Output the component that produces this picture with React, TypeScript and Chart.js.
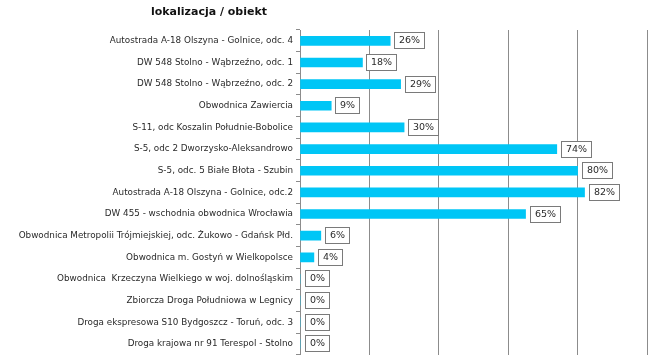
import React, { useEffect, useRef } from 'react';
import { Chart, registerables } from 'chart.js';

Chart.register(...registerables);

const categories = [
  'Autostrada A-18 Olszyna - Golnice, odc. 4',
  'DW 548 Stolno - Wąbrzeźno, odc. 1',
  'DW 548 Stolno - Wąbrzeźno, odc. 2',
  'Obwodnica Zawiercia',
  'S-11, odc Koszalin Południe-Bobolice',
  'S-5, odc 2 Dworzysko-Aleksandrowo',
  'S-5, odc. 5 Białe Błota - Szubin',
  'Autostrada A-18 Olszyna - Golnice, odc.2',
  'DW 455 - wschodnia obwodnica Wrocławia',
  'Obwodnica Metropolii Trójmiejskiej, odc. Żukowo - Gdańsk Płd.',
  'Obwodnica m. Gostyń w Wielkopolsce',
  'Obwodnica  Krzeczyna Wielkiego w woj. dolnośląskim',
  'Zbiorcza Droga Południowa w Legnicy',
  'Droga ekspresowa S10 Bydgoszcz - Toruń, odc. 3',
  'Droga krajowa nr 91 Terespol - Stolno',
];

const values = [26, 18, 29, 9, 30, 74, 80, 82, 65, 6, 4, 0, 0, 0, 0];

const xMin = 0;
const xMax = 100;
const xStep = 20;

const titleText = 'lokalizacja / obiekt';

const FONT = "'DejaVu Sans', sans-serif";
const BAR_COLOR = '#00C6F6';
const GRID_COLOR = '#8c8c8c';
const TEXT_COLOR = '#2a2a2a';

const overlayPlugin = {
  id: 'overlay',
  afterDraw(chart: any) {
    const ctx = chart.ctx;
    const area = chart.chartArea;
    ctx.save();
    // title
    ctx.font = `bold 11px ${FONT}`;
    ctx.fillStyle = '#111';
    ctx.textAlign = 'center';
    ctx.textBaseline = 'middle';
    ctx.fillText(titleText, area.left - 91, 12);

    // value boxes
    const meta = chart.getDatasetMeta(0);
    ctx.font = `9.5px ${FONT}`;
    meta.data.forEach((bar: any, i: number) => {
      const text = `${values[i]}%`;
      const tw = ctx.measureText(text).width;
      const w = Math.round(tw + 10);
      const h = 17;
      const x = Math.round(bar.x + (values[i] === 0 ? 5 : 4));
      const y = Math.round(bar.y - h / 2);
      ctx.fillStyle = '#ffffff';
      ctx.fillRect(x, y, w, h);
      ctx.strokeStyle = '#7a7a7a';
      ctx.lineWidth = 1;
      ctx.strokeRect(x + 0.5, y + 0.5, w - 1, h - 1);
      ctx.fillStyle = TEXT_COLOR;
      ctx.textAlign = 'left';
      ctx.textBaseline = 'middle';
      ctx.fillText(text, x + 5, y + h / 2 + 0.5);
    });
    ctx.restore();
  },
};

export default function App() {
  const ref = useRef<HTMLCanvasElement | null>(null);

  useEffect(() => {
    if (!ref.current) return;
    const chart = new Chart(ref.current, {
      type: 'bar',
      data: {
        labels: categories,
        datasets: [
          {
            data: values,
            backgroundColor: BAR_COLOR,
            borderWidth: 0,
            barThickness: 9,
          },
        ],
      },
      options: {
        indexAxis: 'y',
        animation: false,
        responsive: true,
        maintainAspectRatio: false,
        layout: { padding: { left: 0, right: 10, top: 30, bottom: 6 } },
        plugins: {
          legend: { display: false },
          tooltip: { enabled: false },
          title: { display: false },
        },
        scales: {
          x: {
            min: xMin,
            max: xMax,
            z: 1,
            ticks: { display: false, stepSize: xStep },
            grid: { color: GRID_COLOR, lineWidth: 1, drawTicks: false },
            border: { display: false },
          },
          y: {
            afterFit(scale: any) {
              scale.width = 300;
            },
            ticks: {
              color: TEXT_COLOR,
              font: { family: FONT, size: 8.8 },
              padding: 3,
              autoSkip: false,
            },
            grid: {
              drawOnChartArea: false,
              drawTicks: true,
              tickLength: 4,
              color: GRID_COLOR,
            },
            border: { display: true, color: GRID_COLOR },
          },
        },
      },
      plugins: [overlayPlugin],
    });
    return () => chart.destroy();
  }, []);

  return (
    <div style={{ position: 'absolute', left: 0, top: 0, width: 657, height: 363, background: '#fff' }}>
      <canvas ref={ref} />
    </div>
  );
}
